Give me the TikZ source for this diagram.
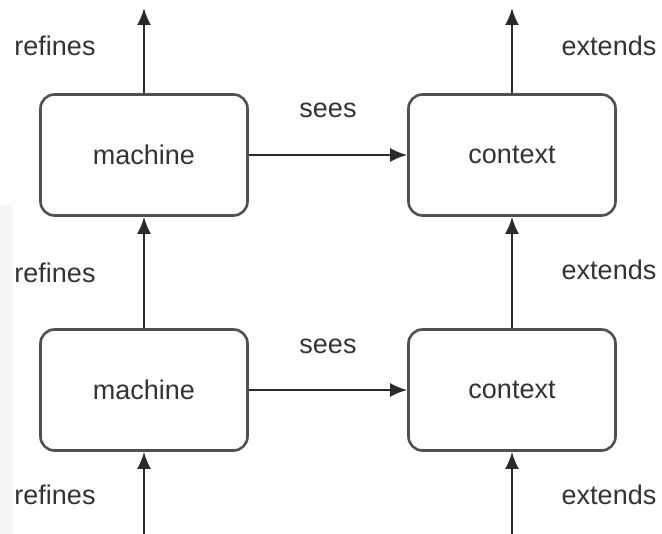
\documentclass[tikz,border=0pt]{standalone}
\usepackage{fontspec}
\setmainfont{Liberation Sans}
\usetikzlibrary{arrows.meta}
\definecolor{inkgray}{HTML}{333333}
\definecolor{linegray}{HTML}{2A2A2A}
\definecolor{boxgray}{HTML}{505050}
\definecolor{stripgray}{HTML}{F4F6F6}
\tikzset{
  block/.style={draw=boxgray, line width=2.6pt, rounded corners=14pt, fill=white,
    minimum width=207pt, minimum height=121pt, inner sep=0pt,
    font=\fontsize{27}{32}\selectfont, text=inkgray},
  label/.style={font=\fontsize{27}{32}\selectfont, text=inkgray, inner sep=0pt},
  link/.style={draw=linegray, line width=2.4pt,
    -{Latex[length=17pt,width=14pt]}},
}
\begin{document}
\begin{tikzpicture}[x=1pt, y=-1pt]
  \useasboundingbox[fill=white] (0,0) rectangle (662,534);
  \fill[stripgray] (0,205) rectangle (13,534);

  % four blocks: machines on the left, contexts on the right
  \node[block] (m1) at (144,155) {machine};
  \node[block] (c1) at (512,155) {context};
  \node[block] (m2) at (144,390) {machine};
  \node[block] (c2) at (512,390) {context};

  % free ends of the vertical connectors
  \coordinate (mtop) at (144,8);
  \coordinate (ctop) at (512,8);
  \coordinate (mbot) at (144,534);
  \coordinate (cbot) at (512,534);

  % refinement chain
  \draw[link] (m1.north) -- (mtop);
  \draw[link] (m2.north) -- (m1.south);
  \draw[link] (mbot) -- (m2.south);

  % extension chain
  \draw[link] (c1.north) -- (ctop);
  \draw[link] (c2.north) -- (c1.south);
  \draw[link] (cbot) -- (c2.south);

  % sees links
  \draw[link] (m1.east) -- (c1.west);
  \draw[link] (m2.east) -- (c2.west);

  % labels
  \node[label] (r1) at (55,46) {refines};
  \node[label] (r2) at (55,273) {refines};
  \node[label] (r3) at (55,495) {refines};
  \node[label] (e1) at (609,46) {extends};
  \node[label] (e2) at (609,270) {extends};
  \node[label] (e3) at (609,495) {extends};
  \node[label] (s1) at (328,110) {sees};
  \node[label] (s2) at (328,346) {sees};
\end{tikzpicture}
\end{document}
